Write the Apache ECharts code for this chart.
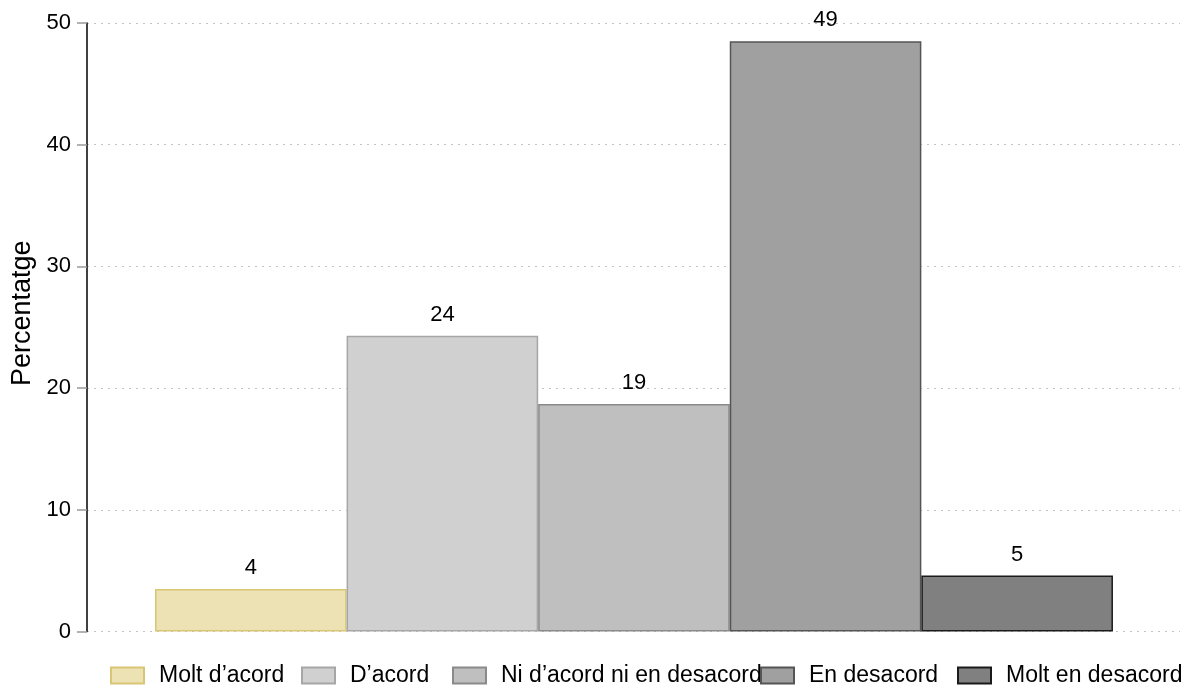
<!DOCTYPE html>
<html>
<head>
<meta charset="utf-8">
<script src="https://cdn.jsdelivr.net/npm/echarts@6/dist/echarts.min.js"></script>
<style>
  html, body { margin: 0; padding: 0; background: #fff; }
  #chart { width: 1186px; height: 687px; }
</style>
</head>
<body>
<div id="chart"></div>
<script>
// answer categories, one bar each
var categories = ['Molt d’acord', 'D’acord', 'Ni d’acord ni en desacord', 'En desacord', 'Molt en desacord'];
var percents = [3.5, 24.3, 18.7, 48.5, 4.6];
var barLabels = ['4', '24', '19', '49', '5'];
var yTicks = [0, 10, 20, 30, 40, 50];

var fills = ['#ece2b3', '#d0d0d0', '#bfbfbf', '#a0a0a0', '#808080'];
var borders = ['#d8c674', '#a6a6a6', '#8a8a8a', '#555555', '#1a1a1a'];
var legendLeft = [110, 301, 452, 760, 957];

var font = 'Liberation Sans, Arial, sans-serif';

var myChart = echarts.init(document.getElementById('chart'));

var series = categories.map(function (name, i) {
    return {
        name: name,
        type: 'bar',
        barWidth: 191.6,
        barGap: '-100%',
        data: [[i + 1, percents[i]]],
        itemStyle: { color: fills[i], borderColor: borders[i], borderWidth: 1.5 },
        label: {
            show: true,
            position: 'top',
            distance: 10,
            color: '#000',
            fontFamily: font,
            fontSize: 22,
            formatter: function () { return barLabels[i]; }
        },
        emphasis: { disabled: true }
    };
});

var legends = categories.map(function (name, i) {
    return {
        data: [name],
        left: legendLeft[i],
        top: 664,
        icon: 'rect',
        itemWidth: 33,
        itemHeight: 16,
        padding: 0,
        textStyle: { fontFamily: font, fontSize: 23, color: '#000', padding: [0, 0, 0, 10] }
    };
});

var option = {
    backgroundColor: '#fff',
    animation: false,
    grid: { left: 87, right: 6, top: 23, bottom: 55.5, outerBoundsMode: 'none', containLabel: false },
    legend: legends,
    xAxis: {
        type: 'value',
        min: 0.145,
        max: 5.85,
        show: false
    },
    yAxis: {
        type: 'value',
        min: yTicks[0],
        max: yTicks[yTicks.length - 1],
        interval: 10,
        name: 'Percentatge',
        nameLocation: 'middle',
        nameRotate: 90,
        nameGap: 51,
        nameTextStyle: { fontFamily: font, fontSize: 27, color: '#000', padding: [0, 0, 0, 28] },
        axisLine: { show: true, lineStyle: { color: '#000', width: 1.5 } },
        axisTick: { show: true, length: 10, lineStyle: { color: '#999', width: 1.5 } },
        axisLabel: { fontFamily: font, fontSize: 22, color: '#000', margin: 16 },
        splitLine: { show: true, lineStyle: { color: '#c4c4c4', width: 1, type: [2, 5] } }
    },
    series: series
};

myChart.setOption(option);
</script>
</body>
</html>
